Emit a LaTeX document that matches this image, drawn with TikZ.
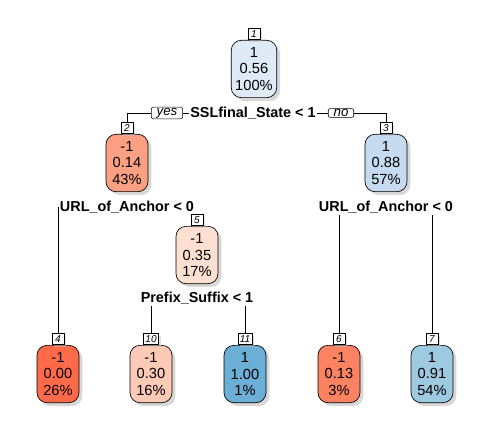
\documentclass[tikz,border=0pt]{standalone}
\usepackage{fontspec}
\setmainfont{Liberation Sans}
\usetikzlibrary{positioning, shadows}
\definecolor{nodeA}{HTML}{DEEBF7}
\definecolor{nodeB}{HTML}{FCA083}
\definecolor{nodeC}{HTML}{C6DBEF}
\definecolor{nodeD}{HTML}{FF6A4A}
\definecolor{nodeE}{HTML}{FEE0D2}
\definecolor{nodeF}{HTML}{FC8262}
\definecolor{nodeG}{HTML}{9ECAE1}
\definecolor{nodeH}{HTML}{FDCAB5}
\definecolor{nodeI}{HTML}{6BAED6}
\tikzstyle{leaf} = [rectangle, rounded corners=7.5pt, draw=black, line width=0.5pt, minimum width=31.5pt, minimum height=43pt, inner xsep=3pt, align=center, font=\fontsize{11}{12.5}\selectfont, drop shadow={shadow xshift=2.5pt, shadow yshift=-2.5pt, fill=black!30}]
\tikzstyle{tag} = [rectangle, draw=black, line width=0.4pt, fill=white, inner xsep=1.5pt, inner ysep=0.5pt, minimum width=9pt, minimum height=8.3pt, font=\fontsize{7.5}{7.5}\selectfont\itshape, drop shadow={shadow xshift=1.5pt, shadow yshift=-1.5pt, fill=black!25}]
\tikzstyle{split} = [inner sep=1pt, font=\fontsize{10.8}{12}\selectfont\bfseries]
\tikzstyle{yesno} = [rectangle, rounded corners=1.5pt, draw=black, line width=0.4pt, fill=white, inner xsep=4pt, inner ysep=0.6pt, font=\fontsize{10}{10}\selectfont\itshape]
\tikzstyle{branch} = [line width=0.5pt]

\begin{document}
\begin{tikzpicture}[x=0.75pt, y=-0.75pt]
\useasboundingbox (0,0) rectangle (491,434);
% Define nodes - boxes of the tree
\node (n1) [leaf, fill=nodeA] at (254,69) {1\\0.56\\100\%};
\node (n2) [leaf, fill=nodeB] at (127,163) {-1\\0.14\\43\%};
\node (n3) [leaf, fill=nodeC] at (386,163) {1\\0.88\\57\%};
\node (n5) [leaf, fill=nodeE] at (197,255) {-1\\0.35\\17\%};
\node (n4) [leaf, fill=nodeD] at (58,374) {-1\\0.00\\26\%};
\node (n10) [leaf, fill=nodeH] at (151,374) {-1\\0.30\\16\%};
\node (n11) [leaf, fill=nodeI] at (245,374) {1\\1.00\\1\%};
\node (n6) [leaf, fill=nodeF] at (339,374) {-1\\0.13\\3\%};
\node (n7) [leaf, fill=nodeG] at (432,374) {1\\0.91\\54\%};

% Node numbers on top of the boxes
\node (t1) [tag, above=0pt of n1] {1};
\node (t2) [tag, above=0pt of n2] {2};
\node (t3) [tag, above=0pt of n3] {3};
\node (t4) [tag, above=0pt of n4] {4};
\node (t5) [tag, above=0pt of n5] {5};
\node (t6) [tag, above=0pt of n6] {6};
\node (t7) [tag, above=0pt of n7] {7};
\node (t10) [tag, above=0pt of n10] {10};
\node (t11) [tag, above=0pt of n11] {11};

% Split labels
\node (s1) [split] at (253,113) {SSLfinal\_State < 1};
\node (s2) [split] at (127,207) {URL\_of\_Anchor < 0};
\node (s3) [split] at (386,207) {URL\_of\_Anchor < 0};
\node (s5) [split] at (197,298) {Prefix\_Suffix < 1};
\node (yes) [yesno] at (167,113) {yes};
\node (no) [yesno] at (341,113) {no};

% Branches
\draw [branch] (s1.west) -- (yes.east);
\draw [branch] (yes.west) -| (t2.north);
\draw [branch] (s1.east) -- (no.west);
\draw [branch] (no.east) -| (t3.north);
\draw [branch] (t4.north) -- (t4.north |- s2.west);
\draw [branch] (t5.north) -- (t5.north |- s2.south);
\draw [branch] (t6.north) -- (t6.north |- s3.south);
\draw [branch] (t7.north) -- (t7.north |- s3.south);
\draw [branch] (t10.north) -- (t10.north |- s5.south);
\draw [branch] (t11.north) -- (t11.north |- s5.south);
\end{tikzpicture}
\end{document}
